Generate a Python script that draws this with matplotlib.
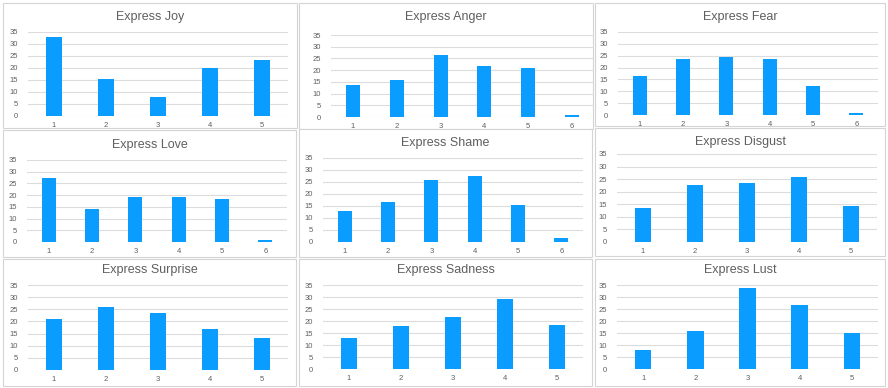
import matplotlib.pyplot as plt
import matplotlib.patches as patches

W, H = 888, 388

titles = ["Express Joy", "Express Anger", "Express Fear",
          "Express Love", "Express Shame", "Express Disgust",
          "Express Surprise", "Express Sadness", "Express Lust"]

joy = [33.0, 15.3, 8.1, 20.2, 23.5]
anger = [13.6, 16.0, 26.5, 21.7, 21.0, 0.7]
fear = [16.3, 23.5, 24.4, 23.5, 12.3, 0.8]
love = [27.4, 14.2, 19.3, 19.3, 18.5, 0.7]
shame = [12.8, 16.7, 25.7, 27.4, 15.3, 1.7]
disgust = [13.6, 22.6, 23.4, 25.8, 14.4]
surprise = [21.0, 25.8, 23.4, 16.9, 13.0]
sadness = [12.9, 17.8, 21.7, 29.0, 18.5]
lust = [7.9, 16.0, 33.8, 26.6, 15.2]

series = [joy, anger, fear, love, shame, disgust, surprise, sadness, lust]
y_ticks = list(range(0, 36, 5))

# panel frames and plot areas in pixels: (left, top, right, bottom)
frames = [(3, 3, 297, 128), (299, 3, 593, 129), (595, 3, 885, 126),
          (3, 130, 296, 257), (299, 129, 592, 257), (595, 128, 885, 256),
          (3, 259, 296, 386), (299, 259, 592, 386), (595, 259, 885, 386)]
areas = [(28, 32, 288, 116), (331, 35, 594, 117), (618, 32, 878, 115),
         (27, 160, 287, 242), (323, 158, 583, 242), (617, 154, 877, 242),
         (28, 285, 288, 370), (323, 285, 583, 369), (617, 285, 878, 369)]
title_y = [17, 17, 17, 145, 143, 142, 270, 270, 270]

BLUE = "#0a9dff"
GREY = "#5f5f5f"
GRID = "#dcdcdc"

plt.rcParams["font.family"] = ["Liberation Sans", "DejaVu Sans"]

fig = plt.figure(figsize=(W / 100, H / 100), dpi=100)
fig.patch.set_facecolor("white")

for title, vals, fr, ar, ty in zip(titles, series, frames, areas, title_y):
    l, t, r, b = fr
    fig.patches.append(patches.Rectangle((l / W, 1 - b / H), (r - l) / W, (b - t) / H,
                                         transform=fig.transFigure, facecolor="white",
                                         edgecolor="#d4d4d4", linewidth=0.8, zorder=-1))
    fig.text((l + r) / 2 / W, 1 - ty / H, title, ha="center", va="center",
             fontsize=9, color=GREY, zorder=3)

    al, at, arr, ab = ar
    ax = fig.add_axes([al / W, 1 - ab / H, (arr - al) / W, (ab - at) / H])
    ax.set_zorder(2)
    ax.set_facecolor("none")
    x = list(range(1, len(vals) + 1))
    ax.bar(x, vals, width=0.32, color=BLUE, zorder=3)
    ax.set_xlim(0.5, len(vals) + 0.5)
    ax.set_ylim(0, 35)
    ax.set_yticks(y_ticks)
    ax.set_xticks(x)
    ax.grid(axis="y", color=GRID, linewidth=0.8, zorder=0)
    for s in ax.spines.values():
        s.set_visible(False)
    ax.tick_params(length=0, labelsize=5.5, colors=GREY)
    ax.tick_params(axis="y", pad=7)
    ax.tick_params(axis="x", pad=4)

fig.savefig("out.png", dpi=100)
